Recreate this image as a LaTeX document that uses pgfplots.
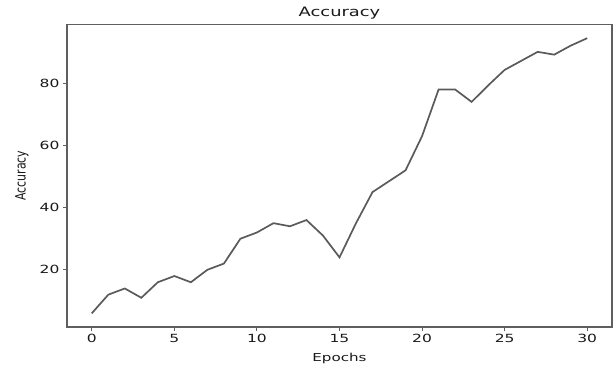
\documentclass[border=0pt]{standalone}
\usepackage{pgfplots}
\pgfplotsset{compat=1.18}
\usepackage{graphicx}
\usepackage{fontspec}
\setmainfont{DejaVu Sans}[FakeStretch=1.38]
\newfontfamily\ylfont{DejaVu Sans}
\definecolor{linegray}{RGB}{90,90,90}
\definecolor{framegray}{RGB}{95,95,95}
\begin{document}
\begin{tikzpicture}
\begin{axis}[
  scale only axis,
  width=545bp, height=302.5bp,
  xmin=-1.5, xmax=31.5, ymin=1.6, ymax=98.9,
  xtick={0,5,10,15,20,25,30},
  ytick={20,40,60,80},
  tick align=outside,
  major tick length=4bp,
  tick style={framegray, line width=0.9bp},
  axis line style={framegray, line width=1.2bp},
  xtick pos=bottom, ytick pos=left,
  /pgf/number format/assume math mode=true,
  tick label style={font=\fontsize{11.3}{13}\selectfont, text=black!90},
  every axis title shift=0pt,
  title={Accuracy},
  title style={at={(axis description cs:0.5,1.0258)}, anchor=base, font=\fontsize{13}{15}\selectfont, text=black!90},
  xlabel={Epochs},
  xlabel style={at={(axis description cs:0.5,-0.1147)}, anchor=base, font=\fontsize{11}{13}\selectfont, text=black!90},
  ylabel={\scalebox{1}[1.3]{Accuracy}},
  ylabel style={at={(axis description cs:-0.0826,0.5)}, anchor=center, font=\ylfont\fontsize{11}{13}\selectfont, text=black!90},
]
\addplot[linegray, line width=1.7bp, no markers] coordinates {
(0,6) (1,12) (2,14) (3,11) (4,16) (5,18) (6,16) (7,20) (8,22) (9,30)
(10,32) (11,35) (12,34) (13,36) (14,31) (15,24) (16,35) (17,45) (18,48.5) (19,52)
(20,63) (21,78) (22,78) (23,74) (24,79.3) (25,84.3) (26,87.2) (27,90.1) (28,89.2) (29,92.1) (30,94.5)
};
\end{axis}
\pgfresetboundingbox
\path[use as bounding box] ([shift={(-67bp,-37bp)}]current axis.south west) rectangle ([shift={(1bp,24.5bp)}]current axis.north east);
\end{tikzpicture}
\end{document}
